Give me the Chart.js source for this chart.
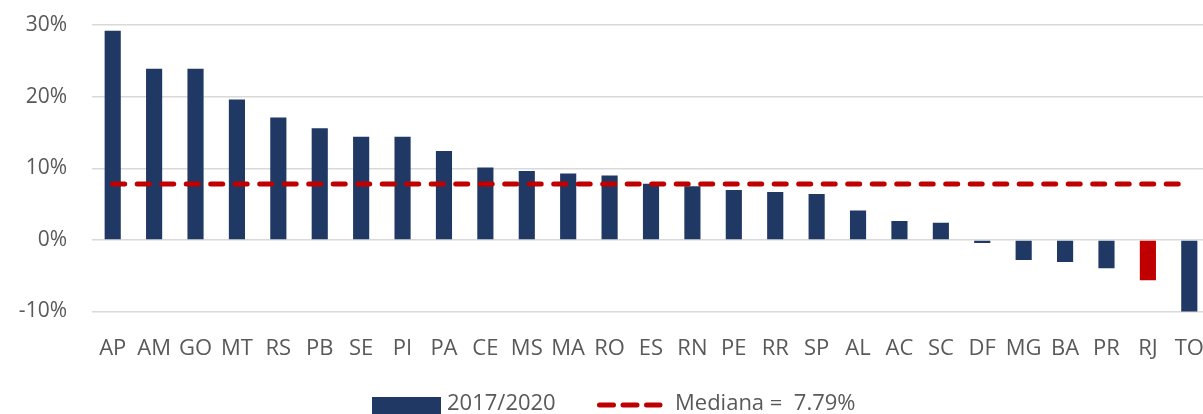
<!DOCTYPE html>
<html>
<head>
<meta charset="utf-8">
<script src="https://cdn.jsdelivr.net/npm/chart.js@4.4.1/dist/chart.umd.min.js"></script>
<style>
  html, body { margin: 0; padding: 0; background: #ffffff; overflow: hidden; }
  #wrap { position: absolute; left: 0; top: 0; width: 1215px; height: 414px; }
</style>
</head>
<body>
<div id="wrap"><canvas id="c" width="1215" height="414"></canvas></div>
<script>
const categories = ['AP','AM','GO','MT','RS','PB','SE','PI','PA','CE','MS','MA','RO','ES','RN','PE','RR','SP','AL','AC','SC','DF','MG','BA','PR','RJ','TO'];
const growth = [29.2, 23.9, 23.9, 19.6, 17.1, 15.6, 14.4, 14.4, 12.4, 10.1, 9.6, 9.25, 9.0, 7.85, 7.5, 6.95, 6.7, 6.4, 4.1, 2.65, 2.4, -0.45, -2.8, -3.1, -3.95, -5.65, -10.3];
const medianValue = 7.79;
const medianSeries = categories.map(() => medianValue);
const highlighted = ['RJ'];
const yTicks = [-10, 0, 10, 20, 30];
const seriesLabel = '2017/2020';
const medianLabel = 'Mediana =  7.79%';

const NAVY = '#203864';
const RED = '#C00000';
const TEXT = '#595959';
const FONT = "'Open Sans', 'Noto Sans', sans-serif";

const legendPlugin = {
  id: 'customLegend',
  afterDraw(chart) {
    const ctx = chart.ctx;
    ctx.save();
    ctx.fillStyle = NAVY;
    ctx.fillRect(372, 397, 69, 17);
    ctx.font = '22px ' + FONT;
    ctx.fillStyle = TEXT;
    ctx.textBaseline = 'middle';
    ctx.textAlign = 'left';
    ctx.fillText(seriesLabel, 447, 404);
    ctx.strokeStyle = RED;
    ctx.lineWidth = 5;
    ctx.lineCap = 'round';
    ctx.setLineDash([14, 9.5]);
    ctx.beginPath();
    ctx.moveTo(599.5, 405);
    ctx.lineTo(660, 405);
    ctx.stroke();
    ctx.setLineDash([]);
    ctx.fillText(medianLabel, 675, 404);
    ctx.restore();
  }
};

new Chart(document.getElementById('c'), {
  type: 'bar',
  data: {
    labels: categories,
    datasets: [
      {
        type: 'line',
        label: medianLabel,
        data: medianSeries,
        borderColor: RED,
        borderWidth: 5,
        borderDash: [12, 12.5],
        borderCapStyle: 'round',
        pointRadius: 0,
        fill: false,
        order: 0
      },
      {
        type: 'bar',
        label: seriesLabel,
        data: growth,
        backgroundColor: categories.map(c => highlighted.includes(c) ? RED : NAVY),
        barPercentage: 0.39,
        categoryPercentage: 1,
        order: 1
      }
    ]
  },
  options: {
    responsive: false,
    devicePixelRatio: 1,
    animation: false,
    layout: { padding: { left: 0, right: 5, top: 25, bottom: 0 } },
    plugins: {
      legend: { display: false },
      tooltip: { enabled: false }
    },
    scales: {
      x: {
        offset: true,
        grid: { display: false, drawTicks: false },
        border: { display: false },
        ticks: {
          color: TEXT,
          font: { family: FONT, size: 22 },
          padding: 24,
          maxRotation: 0,
          autoSkip: false
        },
        afterFit(scale) { scale.height = 102.5; scale.paddingLeft = 0; scale.paddingRight = 0; }
      },
      y: {
        min: -10,
        max: 30,
        afterBuildTicks(scale) { scale.ticks = yTicks.map(v => ({ value: v })); },
        grid: { color: '#D9D9D9', lineWidth: 1.5, drawTicks: false },
        border: { display: false },
        ticks: {
          color: TEXT,
          font: { family: FONT, size: 21 },
          padding: 25,
          callback: v => v + '%'
        },
        afterFit(scale) { scale.width = 92; scale.paddingTop = 0; scale.paddingBottom = 0; }
      }
    }
  },
  plugins: [legendPlugin]
});
</script>
</body>
</html>
